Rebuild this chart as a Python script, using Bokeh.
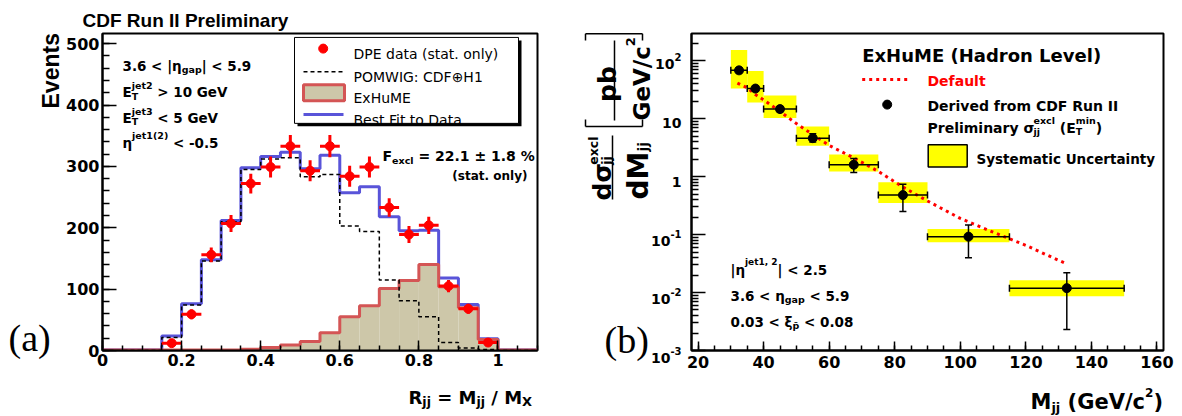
import math
import unicodedata
from bokeh.plotting import figure
from bokeh.models import (Label, FixedTicker, CustomJSTickFormatter, Whisker,
                          TeeHead, ColumnDataSource, Range1d, GridBox)
from bokeh.layouts import row
from bokeh.embed import file_html
from bokeh.resources import INLINE

# ---------------- Left panel data: R_jj distribution ----------------
rjj_edges = [0.0, 0.05, 0.1, 0.15, 0.2, 0.25, 0.3, 0.35, 0.4, 0.45, 0.5, 0.55,
             0.6, 0.65, 0.7, 0.75, 0.8, 0.85, 0.9, 0.95, 1.0, 1.05, 1.1]
pomwig = [0, 0, 0, 21, 74, 146, 210, 295, 312, 314, 283, 287, 203, 194, 115, 81,
          55, 13, 4, 1.5, 0, 0]
exhume = [1, 1, 1, 1, 1, 1, 1, 2, 5, 9, 14.5, 29, 55, 73, 101, 114, 140, 104,
          69.5, 18, 1, 1]
bestfit = [1, 1, 1, 23.5, 76, 148, 212, 298, 316, 323, 296, 318, 257, 267, 218,
           195, 196, 118, 75, 19, 1, 1]
dpe_x = [0.175, 0.225, 0.275, 0.325, 0.375, 0.425, 0.475, 0.525, 0.575, 0.625,
         0.675, 0.725, 0.775, 0.825, 0.875, 0.925, 0.975]
dpe_y = [12, 59, 156, 207, 272, 299, 333, 293, 333, 284, 299, 233, 189, 204, 105, 68, 13]
dpe_err = [4, 8, 12, 14, 16, 17, 18, 17, 18, 17, 17, 15, 14, 14, 10, 8, 4]
dpe_halfwidth = 0.025
left_xticks = [0, 0.2, 0.4, 0.6, 0.8, 1.0]
left_yticks = [0, 100, 200, 300, 400, 500]

# ---------------- Right panel data: dsigma/dMjj ----------------
mjj_edges = [30, 35, 40, 50, 60, 75, 90, 115, 150]
mjj_x = [32.5, 37.5, 45, 55, 67.5, 82.5, 102.5, 132.5]
xsec = [68, 33, 14.6, 4.6, 1.6, 0.48, 0.092, 0.0119]
stat_lo = [62, 30, 13.2, 3.95, 1.18, 0.25, 0.04, 0.0023]
stat_hi = [75, 36.5, 16.2, 5.5, 2.05, 0.74, 0.146, 0.022]
syst_lo = [33, 19, 10.2, 3.4, 1.22, 0.35, 0.074, 0.0086]
syst_hi = [152, 66, 25, 7.3, 2.4, 0.8, 0.125, 0.0163]
curve_x = [32, 35, 37.5, 40, 45, 50, 55, 60, 67.5, 75, 82.5, 90, 100, 110, 120, 132]
curve_y = [41, 34, 26, 21, 13.3, 8.2, 5.3, 3.45, 2.1, 1.23, 0.66, 0.38, 0.19, 0.11,
           0.065, 0.032]
right_xticks = [20, 40, 60, 80, 100, 120, 140, 160]
right_decades = [-3, -2, -1, 0, 1, 2]

# ---------------- geometry (page pixels) ----------------
PW, PH = 1182, 416
LW, LH = 585, 416
LBL, LBR, LBT, LBB = 102, 48, 33, 62
L_XMAX, L_YMAX = 1.1, 516.6
L_FL = LBL
L_FB = LH - LBB
L_SX = (LW - LBL - LBR) / L_XMAX
L_SY = (LH - LBT - LBB) / L_YMAX

RW, RH = 597, 416
RBL, RBR, RBT, RBB = 106, 19, 29, 66
R_X0, R_X1 = 18, 162
R_Y0, R_Y1 = 1e-3, 294
R_FL = LW + RBL
R_FB = RH - RBB
R_SX = (RW - RBL - RBR) / (R_X1 - R_X0)
R_SY = (RH - RBT - RBB) / (math.log10(R_Y1) - math.log10(R_Y0))


def Ld(X, Y):
    return (X - L_FL) / L_SX, (L_FB - Y) / L_SY


def Rd(X, Y):
    return R_X0 + (X - R_FL) / R_SX, 10 ** (math.log10(R_Y0) + (R_FB - Y) / R_SY)


# DejaVu Sans Bold advance widths (em)
DVB = {c: 0.696 for c in "0123456789"}
DVB.update({' ': 0.348, '(': 0.457, ')': 0.457, ',': 0.380, '-': 0.415, '.': 0.380,
            '/': 0.365, ':': 0.400, '<': 0.838, '=': 0.838, '>': 0.838, '%': 1.002,
            '|': 0.365, '±': 0.838, 'η': 0.712, 'σ': 0.716, 'ξ': 0.59})
DVB.update(dict(zip("ABCDEFGHIJKLMNOPQRSTUVWXYZ",
                    [0.774, 0.762, 0.734, 0.830, 0.683, 0.683, 0.821, 0.837, 0.372, 0.372,
                     0.775, 0.637, 0.995, 0.837, 0.850, 0.733, 0.850, 0.770, 0.720, 0.682,
                     0.812, 0.774, 1.103, 0.771, 0.724, 0.725])))
DVB.update(dict(zip("abcdefghijklmnopqrstuvwxyz",
                    [0.675, 0.716, 0.593, 0.716, 0.678, 0.435, 0.716, 0.712, 0.343, 0.343,
                     0.665, 0.343, 1.042, 0.712, 0.687, 0.716, 0.716, 0.493, 0.595, 0.478,
                     0.712, 0.652, 0.924, 0.645, 0.652, 0.582])))


def tw(s, size):
    return sum(0.0 if unicodedata.combining(c) else DVB.get(c, 0.7) for c in s) * size


# overlay canvas for all texts (page-pixel coordinates, y downwards)
ov = figure(width=PW, height=PH, x_range=Range1d(0, PW), y_range=Range1d(PH, 0),
            x_axis_type=None, y_axis_type=None, output_backend="svg",
            toolbar_location=None, title=None, min_border=0)
ov.xgrid.visible = False
ov.ygrid.visible = False
ov.outline_line_color = None
ov.background_fill_color = None
ov.border_fill_color = None


def lab(X, Y, text, size, font="DejaVu Sans", style="bold", color="black",
        align="left", angle=0.0):
    ov.add_layout(Label(x=X, y=Y, text=text, text_font=font, text_font_size=f"{size}px",
                        text_font_style=style, text_color=color, text_align=align,
                        text_baseline="alphabetic", angle=angle))


def rich(X, Y, parts, angle=0.0, **kw):
    adv = 0.0
    for part in parts:
        if part[0] == "stack":
            _, sup, sub, size, dsup, dsub = part
            items = [(sup, size, dsup), (sub, size, dsub)]
            w = max(tw(sup, size), tw(sub, size))
        else:
            items = [part]
            w = tw(part[0], part[1])
        for txt, size, dy in items:
            stripped = txt.lstrip(" ")
            off = tw(txt[:len(txt) - len(stripped)], size)
            if angle == 0.0:
                x, y = X + adv + off, Y - dy
            else:
                x, y = X - dy, Y - adv - off
            lab(x, y, stripped, size, angle=angle, **kw)
        adv += w


def seg(X0, Y0, X1, Y1, width=1.5):
    ov.segment(x0=[X0], y0=[Y0], x1=[X1], y1=[Y1], line_color="black", line_width=width)


def style_axis(ax, tin, tmin, standoff):
    ax.axis_line_width = 2
    ax.axis_line_color = "black"
    ax.major_tick_line_width = 1.5
    ax.minor_tick_line_width = 1.5
    ax.major_tick_in = tin
    ax.major_tick_out = 0
    ax.minor_tick_in = tmin
    ax.minor_tick_out = 0
    ax.major_label_text_font = "DejaVu Sans"
    ax.major_label_text_font_style = "bold"
    ax.major_label_text_font_size = "16px"
    ax.major_label_text_color = "black"
    ax.major_label_standoff = standoff


BLUE = "#5954d9"
RED_O = "#d45555"
TAN = "#cdc7a9"

# ================= LEFT FIGURE =================
p1 = figure(width=LW, height=LH, x_range=Range1d(0, L_XMAX), y_range=Range1d(0, L_YMAX),
            output_backend="svg", toolbar_location=None, title=None,
            min_border_left=LBL, min_border_right=LBR, min_border_top=LBT,
            min_border_bottom=LBB)
p1.xgrid.visible = False
p1.ygrid.visible = False
p1.outline_line_color = "black"
p1.outline_line_width = 2
p1.background_fill_color = "white"
p1.border_fill_color = "white"
p1.xaxis.ticker = FixedTicker(ticks=left_xticks,
                              minor_ticks=[i * 0.05 for i in range(23)])
p1.yaxis.ticker = FixedTicker(ticks=left_yticks, minor_ticks=[i * 20 for i in range(26)])
p1.xaxis.formatter = CustomJSTickFormatter(
    code="return Math.abs(tick-Math.round(tick))<1e-6 ? Math.round(tick).toFixed(0) : tick.toFixed(1);")
style_axis(p1.xaxis[0], 10, 5, 3)
style_axis(p1.yaxis[0], 14, 7, 3)

p1.step(x=rjj_edges, y=bestfit + [bestfit[-1]], mode="after", line_color=BLUE, line_width=3)
p1.quad(left=rjj_edges[:-1], right=rjj_edges[1:], bottom=0, top=exhume,
        fill_color=TAN, line_color=None)
p1.step(x=rjj_edges, y=exhume + [exhume[-1]], mode="after", line_color=RED_O, line_width=3)
p1.step(x=rjj_edges, y=pomwig + [pomwig[-1]], mode="after", line_color="black",
        line_width=1.5, line_dash="4 3")
p1.segment(x0=[x - dpe_halfwidth for x in dpe_x], x1=[x + dpe_halfwidth for x in dpe_x],
           y0=dpe_y, y1=dpe_y, line_color="red", line_width=3)
p1.segment(x0=dpe_x, x1=dpe_x, y0=[y - e for y, e in zip(dpe_y, dpe_err)],
           y1=[y + e for y, e in zip(dpe_y, dpe_err)], line_color="red", line_width=3)
p1.scatter(dpe_x, dpe_y, size=9, color="red")

# legend box (left)
a0, b0 = Ld(297, 127)
a1, b1 = Ld(521, 40)
p1.quad(left=[a0], right=[a1], bottom=[b0], top=[b1], fill_color="black", line_color=None)
a0, b0 = Ld(294, 124)
a1, b1 = Ld(518, 37)
p1.quad(left=[a0], right=[a1], bottom=[b0], top=[b1], fill_color="white",
        line_color="black", line_width=1)
lx, ly = Ld(322.7, 48.3)
p1.scatter([lx], [ly], size=9, color="red")
a0, b0 = Ld(303, 71.7)
a1, b1 = Ld(343, 71.7)
p1.line([a0, a1], [b0, b1], line_color="black", line_width=1.5, line_dash="4 3")
a0, b0 = Ld(303, 101)
a1, b1 = Ld(344, 85)
p1.quad(left=[a0], right=[a1], bottom=[b0], top=[b1], fill_color=TAN, line_color=RED_O,
        line_width=3)
a0, b0 = Ld(303, 115)
a1, b1 = Ld(343, 115)
p1.line([a0, a1], [b0, b1], line_color=BLUE, line_width=3)

# ================= RIGHT FIGURE =================
p2 = figure(width=RW, height=RH, x_range=Range1d(R_X0, R_X1), y_range=Range1d(R_Y0, R_Y1),
            y_axis_type="log", output_backend="svg", toolbar_location=None, title=None,
            min_border_left=RBL, min_border_right=RBR, min_border_top=RBT,
            min_border_bottom=RBB)
p2.xgrid.visible = False
p2.ygrid.visible = False
p2.outline_line_color = "black"
p2.outline_line_width = 2
p2.background_fill_color = "white"
p2.border_fill_color = "white"
p2.xaxis.ticker = FixedTicker(ticks=right_xticks, minor_ticks=list(range(20, 161, 5)))
ymin_ticks = [m * 10.0 ** d for d in right_decades for m in range(2, 10) if m * 10.0 ** d < R_Y1]
p2.yaxis.ticker = FixedTicker(ticks=[10.0 ** d for d in right_decades], minor_ticks=ymin_ticks)
p2.yaxis.formatter = CustomJSTickFormatter(code="return '';")
style_axis(p2.xaxis[0], 9, 5, 5)
style_axis(p2.yaxis[0], 14, 7, 3)

p2.quad(left=mjj_edges[:-1], right=mjj_edges[1:], bottom=syst_lo, top=syst_hi,
        fill_color="#ffff00", line_color=None)
p2.line(curve_x, curve_y, line_color="red", line_width=3, line_dash="3 4")
src_v = ColumnDataSource(dict(base=mjj_x, lower=stat_lo, upper=stat_hi))
wv = Whisker(source=src_v, base="base", lower="lower", upper="upper", dimension="height",
             line_color="black", line_width=1.5,
             upper_head=TeeHead(size=7, line_width=1.5, line_color="black"),
             lower_head=TeeHead(size=7, line_width=1.5, line_color="black"), level="annotation")
src_h = ColumnDataSource(dict(base=xsec, lower=mjj_edges[:-1], upper=mjj_edges[1:]))
wh = Whisker(source=src_h, base="base", lower="lower", upper="upper", dimension="width",
             line_color="black", line_width=1.5,
             upper_head=TeeHead(size=7, line_width=1.5, line_color="black"),
             lower_head=TeeHead(size=7, line_width=1.5, line_color="black"), level="annotation")
p2.add_layout(wv)
p2.add_layout(wh)
p2.scatter(mjj_x, xsec, size=9, color="black")

# right legend samples
a0, b0 = Rd(861.7, 75.7)
a1, b1 = Rd(910, 75.7)
p2.line([a0, a1], [b0, b1], line_color="red", line_width=3, line_dash="3 4")
dx, dy_ = Rd(886.7, 101)
p2.scatter([dx], [dy_], size=9, color="black")
a0, b0 = Rd(927.7, 164.3)
a1, b1 = Rd(966.7, 141.7)
p2.quad(left=[a0], right=[a1], bottom=[b0], top=[b1], fill_color="#ffff00",
        line_color="black", line_width=1.5)

# ================= TEXTS (overlay) =================
legend_texts = ["DPE data (stat. only)", "POMWIG: CDF⊕H1", "ExHuME", "Best Fit to Data"]
for t, yb in zip(legend_texts, [53.5, 76, 97.5, 119]):
    lab(353, yb, t, 14, style="normal")

lab(82, 20, "CDF Run II Preliminary", 19, font="Liberation Sans")
lab(50, 108, "Events", 23, font="Liberation Sans", angle=math.pi / 2)
rich(122, 65, [("3.6 < |η", 13.5, 0), ("gap", 9.5, -4), ("| < 5.9", 13.5, 0)])
rich(122, 91.5, [("E", 13.5, 0), ("stack", "jet2", "T", 9.5, 6.5, -4), (" > 10 GeV", 13.5, 0)])
rich(122, 117, [("E", 13.5, 0), ("stack", "jet3", "T", 9.5, 6.5, -4), (" < 5 GeV", 13.5, 0)])
rich(122, 142, [("η", 13.5, 0), ("jet1(2)", 9.5, 7), (" < -0.5", 13.5, 0)])
rich(382, 155, [("F", 14, 0), ("excl", 9.5, -5), (" = 22.1 ± 1.8 %", 14, 0)])
lab(527, 175, "(stat. only)", 12, align="right")
rich(408, 396.7, [("R", 18, 0), ("jj", 12.5, -4), (" = M", 18, 0),
                  ("jj", 12.5, -4), (" / M", 18, 0), ("X", 13, -4.5)])
lab(8, 337, "(a)", 38, font="Liberation Serif", style="normal")

lab(861.7, 55, "ExHuME (Hadron Level)", 18)
lab(927, 80, "Default", 14, color="red")
lab(927, 105, "Derived from CDF Run II", 14)
rich(927, 127.3, [("Preliminary σ", 14, 0), ("stack", "excl", "jj", 9.5, 7, -4),
                  (" (E", 14, 0), ("stack", "min", "T", 9.5, 7, -4), (")", 14, 0)])
lab(976, 158.3, "Systematic Uncertainty", 13.5)
rich(730, 269.3, [("|η", 13.5, 0), ("jet1, 2", 9, 7.5), ("| < 2.5", 13.5, 0)])
rich(730, 295, [("3.6 < η", 13.5, 0), ("gap", 9.5, -3.5), (" < 5.9", 13.5, 0)])
rich(730, 321, [("0.03 < ξ", 13.5, 0), ("p\u0304", 9.5, -4), (" < 0.08", 13.5, 0)])
rich(1030, 401.7, [("M", 21, 0), ("jj", 13, -5), (" (GeV/c", 21, 0), ("2", 12, 10), (")", 21, 0)])
lab(604, 339, "(b)", 38, font="Liberation Serif", style="normal")

# right y tick labels
for d in right_decades:
    ty = R_FB - (d - math.log10(R_Y0)) * R_SY
    if d == 0:
        lab(681, ty + 7.5, "1", 14, align="right")
    elif d == 1:
        lab(681, ty + 7.5, "10", 14, align="right")
    else:
        s = str(d)
        lab(681, ty + 0.5, s, 10, align="right")
        lab(681 - tw(s, 10), ty + 7.5, "10", 14, align="right")

# rotated y-axis title of right panel
ang = math.pi / 2
rich(601.7, 200, [("dσ", 25, 0), ("stack", "excl", "jj", 12.5, 9, -4)], angle=ang)
seg(612, 135, 612, 199)
rich(638, 199, [("dM", 28, 0), ("jj", 14, -4)], angle=ang)
seg(585, 126, 642, 126)
seg(585, 126, 585, 119)
seg(642, 126, 642, 119)
seg(585, 33.3, 642, 33.3)
seg(585, 33.3, 585, 40)
seg(642, 33.3, 642, 40)
rich(607, 101.5, [("pb", 25, 0)], angle=ang)
seg(614, 40, 614, 120)
rich(641, 120, [("GeV/c", 23, 0), ("2", 13, 11)], angle=ang)

plots = row(p1, p2)
layout = GridBox(children=[(plots, 0, 0), (ov, 0, 0)], spacing=0)
open("out.html", "w").write(file_html(layout, INLINE))
